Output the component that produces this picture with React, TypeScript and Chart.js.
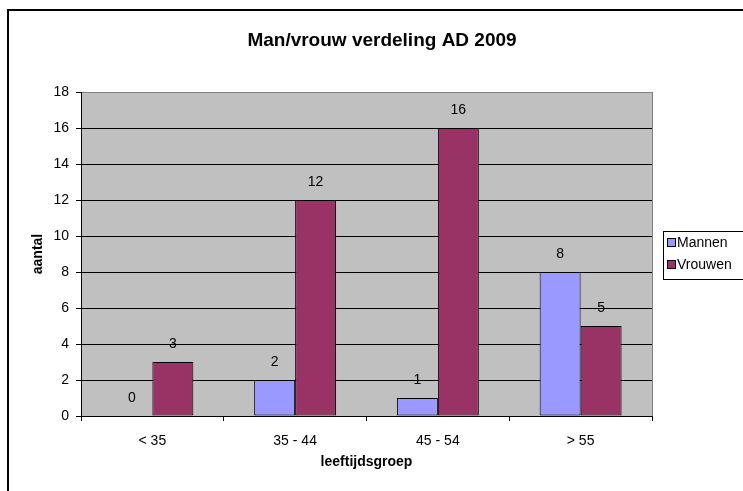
import React, { useEffect, useRef } from 'react';
import { Chart, registerables } from 'chart.js';

Chart.register(...registerables);

const categories = ['< 35', '35 - 44', '45 - 54', '> 55'];
const seriesNames = ['Mannen', 'Vrouwen'];
const mannen = [0, 2, 1, 8];
const vrouwen = [3, 12, 16, 5];
const seriesColors = ['#9999FF', '#993366'];
const yMin = 0;
const yMax = 18;
const yStep = 2;
const chartTitle = 'Man/vrouw verdeling AD 2009';
const xTitle = 'leeftijdsgroep';
const yTitle = 'aantal';

const FONT = '"Liberation Sans", Arial, Helvetica, sans-serif';

const decorPlugin = {
  id: 'decor',
  beforeDraw(chart: any) {
    const { ctx, chartArea: a } = chart;
    ctx.save();
    ctx.fillStyle = '#ffffff';
    ctx.fillRect(0, 0, chart.width, chart.height);
    // outer frame (extends beyond the visible area on right and bottom)
    ctx.strokeStyle = '#000000';
    ctx.lineWidth = 2;
    ctx.strokeRect(8, 10, 900, 700);
    // plot area background
    ctx.fillStyle = '#C0C0C0';
    ctx.fillRect(a.left, a.top, a.right - a.left, a.bottom - a.top);
    ctx.restore();
  },
  afterDatasetsDraw(chart: any) {
    const { ctx } = chart;
    ctx.save();
    ctx.font = '14px ' + FONT;
    ctx.fillStyle = '#000000';
    ctx.textAlign = 'center';
    ctx.textBaseline = 'middle';
    chart.data.datasets.forEach((ds: any, i: number) => {
      const meta = chart.getDatasetMeta(i);
      meta.data.forEach((bar: any, j: number) => {
        ctx.fillText(String(ds.data[j]), bar.x, bar.y - 18);
      });
    });
    ctx.restore();
  },
  afterDraw(chart: any) {
    const { ctx, chartArea: a } = chart;
    ctx.save();
    // gray right border of plot area
    ctx.strokeStyle = '#808080';
    ctx.lineWidth = 1;
    ctx.beginPath();
    ctx.moveTo(Math.round(a.right) + 0.5, a.top);
    ctx.lineTo(Math.round(a.right) + 0.5, a.bottom);
    ctx.stroke();
    // title
    ctx.fillStyle = '#000000';
    ctx.font = 'bold 19px ' + FONT;
    ctx.textAlign = 'center';
    ctx.textBaseline = 'middle';
    ctx.fillText(chartTitle, 382, 41);
    // legend
    const lx = 663.5;
    const ly = 231.5;
    ctx.strokeStyle = '#000000';
    ctx.lineWidth = 1;
    ctx.strokeRect(lx, ly, 200, 48);
    ctx.font = '14px ' + FONT;
    ctx.textAlign = 'left';
    seriesNames.forEach((name, i) => {
      const cy = 243 + i * 22;
      ctx.fillStyle = seriesColors[i];
      ctx.fillRect(668, cy - 4, 7, 7);
      ctx.strokeStyle = '#000000';
      ctx.strokeRect(667.5, cy - 4.5, 8, 8);
      ctx.fillStyle = '#000000';
      ctx.fillText(name, 677, cy);
    });
    ctx.restore();
  },
};

export default function App() {
  const canvasRef = useRef<HTMLCanvasElement | null>(null);

  useEffect(() => {
    if (!canvasRef.current) return;
    const chart = new Chart(canvasRef.current, {
      type: 'bar',
      data: {
        labels: categories,
        datasets: [
          {
            label: seriesNames[0],
            data: mannen,
            backgroundColor: seriesColors[0],
            borderColor: '#000000',
            borderWidth: 1,
            borderSkipped: false,
          },
          {
            label: seriesNames[1],
            data: vrouwen,
            backgroundColor: seriesColors[1],
            borderColor: '#000000',
            borderWidth: 1,
            borderSkipped: false,
          },
        ],
      },
      options: {
        responsive: false,
        animation: false,
        events: [],
        layout: { padding: { top: 92, right: 91, left: 0, bottom: 0 } },
        datasets: {
          bar: { categoryPercentage: 0.574, barPercentage: 1 },
        },
        plugins: {
          legend: { display: false },
          title: { display: false },
          tooltip: { enabled: false },
        },
        scales: {
          x: {
            afterFit(scale: any) {
              scale.height = 75;
            },
            grid: {
              drawOnChartArea: false,
              drawTicks: true,
              tickLength: 5,
              tickColor: '#000000',
              offset: true,
            },
            border: { color: '#000000', width: 1 },
            ticks: {
              color: '#000000',
              font: { family: FONT, size: 14 },
              padding: 12,
              maxRotation: 0,
            },
            title: {
              display: true,
              text: xTitle,
              color: '#000000',
              font: { family: FONT, size: 14, weight: 'bold' },
              padding: { top: 0, bottom: 20 },
            },
          },
          y: {
            min: yMin,
            max: yMax,
            afterFit(scale: any) {
              scale.width = 81;
            },
            grid: {
              color: (c: any) => (c.tick && c.tick.value === yMax ? '#808080' : '#000000'),
              lineWidth: 1,
              tickLength: 5,
              tickColor: '#000000',
            },
            border: { color: '#000000', width: 1 },
            ticks: {
              stepSize: yStep,
              color: '#000000',
              font: { family: FONT, size: 14 },
              padding: 7,
            },
            title: {
              display: true,
              text: yTitle,
              color: '#000000',
              font: { family: FONT, size: 14, weight: 'bold' },
              padding: { top: 30, bottom: 0 },
            },
          },
        },
      },
      plugins: [decorPlugin],
    });
    return () => chart.destroy();
  }, []);

  return (
    <div style={{ position: 'fixed', left: 0, top: 0, width: 743, height: 491, overflow: 'hidden', background: '#fff' }}>
      <canvas ref={canvasRef} width={743} height={491} style={{ display: 'block' }} />
    </div>
  );
}
